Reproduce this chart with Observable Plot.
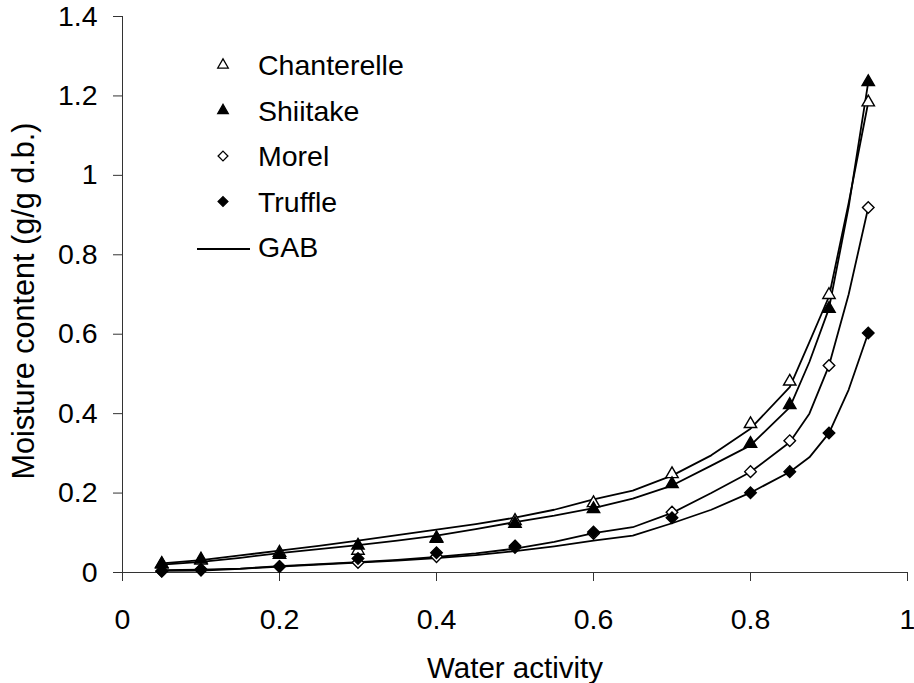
<!DOCTYPE html>
<html><head><meta charset="utf-8">
<script src="https://cdn.jsdelivr.net/npm/d3@7"></script>
<script src="https://cdn.jsdelivr.net/npm/@observablehq/plot@0.6"></script>
<style>
body{margin:0;background:#fff;font-family:"Liberation Sans",Arial,sans-serif}
#chart svg text{font-size:28.5px;fill:black}
#chart svg text.title{font-size:29.5px}
#chart svg text.ytitle{font-size:30.6px}
</style>
</head><body><div id="chart"></div>
<script>
// Experimental points
const aw = [0.05, 0.1, 0.2, 0.3, 0.4, 0.5, 0.6, 0.7, 0.8, 0.85, 0.9, 0.95];
const chanterelle = [0.020, 0.030, 0.050, 0.055, 0.085, 0.130, 0.175, 0.248, 0.374, 0.481, 0.699, 1.184];
const shiitake    = [0.022, 0.033, 0.045, 0.068, 0.087, 0.123, 0.160, 0.223, 0.324, 0.422, 0.664, 1.235];
const morel       = [0.004, 0.008, 0.015, 0.025, 0.040, 0.063, 0.098, 0.152, 0.254, 0.332, 0.521, 0.919];
const truffle     = [0.003, 0.006, 0.015, 0.035, 0.050, 0.067, 0.102, 0.138, 0.201, 0.254, 0.351, 0.603];

// GAB model curves
const gabAw = [0.05, 0.1, 0.15, 0.2, 0.25, 0.3, 0.35, 0.4, 0.45, 0.5, 0.55, 0.6, 0.65, 0.7, 0.75, 0.8, 0.85, 0.875, 0.9, 0.925, 0.95];
const gabChanterelle = [0.023, 0.031, 0.043, 0.055, 0.067, 0.080, 0.094, 0.108, 0.122, 0.138, 0.158, 0.184, 0.206, 0.244, 0.295, 0.362, 0.467, 0.580, 0.695, 0.930, 1.184];
const gabShiitake    = [0.020, 0.027, 0.037, 0.049, 0.059, 0.069, 0.080, 0.093, 0.109, 0.127, 0.143, 0.162, 0.186, 0.219, 0.269, 0.320, 0.416, 0.530, 0.665, 0.920, 1.235];
const gabMorel       = [0.006, 0.007, 0.010, 0.016, 0.021, 0.026, 0.032, 0.039, 0.048, 0.060, 0.077, 0.099, 0.114, 0.150, 0.200, 0.253, 0.328, 0.400, 0.521, 0.700, 0.919];
const gabTruffle     = [0.004, 0.005, 0.009, 0.015, 0.020, 0.025, 0.030, 0.036, 0.044, 0.054, 0.066, 0.080, 0.093, 0.124, 0.158, 0.201, 0.253, 0.290, 0.351, 0.460, 0.603];

const seriesNames = ["Chanterelle", "Shiitake", "Morel", "Truffle"];
const seriesSymbols = ["triangle", "triangle", "diamond2", "diamond2"];
const seriesFills = ["white", "black", "white", "black"];
const legendNames = ["Chanterelle", "Shiitake", "Morel", "Truffle", "GAB"];

const xTicks = [0, 0.2, 0.4, 0.6, 0.8, 1];
const yTicks = [0, 0.2, 0.4, 0.6, 0.8, 1, 1.2, 1.4];

const pointValues = [chanterelle, shiitake, morel, truffle];
const gabValues = [gabChanterelle, gabShiitake, gabMorel, gabTruffle];

const gabRows = seriesNames.flatMap((s, k) => gabAw.map((a, i) => ({series: s, aw: a, mc: gabValues[k][i]})));
const pointRows = seriesNames.map((s, k) => aw.map((a, i) => ({series: s, aw: a, mc: pointValues[k][i]})));

const FONT = 28.5;
const rFor = sym => sym === "triangle" ? 4.6 : 5.2;

const marks = [
  Plot.ruleY([0], {stroke: "#333", strokeWidth: 1}),
  Plot.ruleX([0], {stroke: "#333", strokeWidth: 1}),
  Plot.axisX({ticks: xTicks, tickSize: 9, tickPadding: 27, fontSize: FONT, tickFormat: d => String(d), label: null, stroke: "#333", fill: "black"}),
  Plot.axisY({ticks: yTicks, tickSize: 9, tickPadding: 16, fontSize: FONT, tickFormat: d => String(d), label: null, stroke: "#333", fill: "black"}),
  Plot.line(gabRows, {x: "aw", y: "mc", z: "series", stroke: "black", strokeWidth: 1.8}),
  ...pointRows.map((rows, k) => Plot.dot(rows, {
    x: "aw", y: "mc", symbol: () => seriesSymbols[k], r: rFor(seriesSymbols[k]),
    fill: seriesFills[k], stroke: "black", strokeWidth: 1.4
  })),
  Plot.text(["Water activity"], {frameAnchor: "bottom", textAnchor: "middle", dy: 105, lineAnchor: "bottom", fontSize: 29.5, fill: "black", className: "title"}),
  Plot.text(["Moisture content (g/g d.b.)"], {frameAnchor: "left", textAnchor: "middle", rotate: -90, dx: -88.5, dy: 6.5, lineAnchor: "bottom", fontSize: 30.6, fill: "black", className: "ytitle"})
];

const chart = Plot.plot({
  width: 914, height: 683,
  marginLeft: 122, marginRight: 7, marginTop: 16, marginBottom: 111,
  style: {fontFamily: '"Liberation Sans", Arial, sans-serif', fontSize: FONT + "px", background: "white", color: "black"},
  x: {domain: [0, 1]},
  y: {domain: [0, 1.4]},
  symbol: {type: "identity"},
  marks
});
document.getElementById("chart").append(chart);

// carry the title classes down to the text elements
d3.select(chart).selectAll("g.title text").classed("title", true);
d3.select(chart).selectAll("g.ytitle text").classed("ytitle", true);

// Legend inside the plot area
const svg = d3.select(chart);
const lg = svg.append("g").attr("class", "legend").attr("text-anchor", "start");
const rowY = i => 65 + i * 45.5;
const symType = {triangle: d3.symbolTriangle, diamond2: d3.symbolDiamond2};
legendNames.forEach((name, i) => {
  const y = rowY(i);
  if (i < seriesNames.length) {
    const sym = seriesSymbols[i];
    const r = rFor(sym) * 0.85;
    lg.append("path")
      .attr("d", d3.symbol(symType[sym], Math.PI * r * r)())
      .attr("transform", `translate(223,${y})`)
      .attr("fill", seriesFills[i]).attr("stroke", "black").attr("stroke-width", 1.3);
  } else {
    lg.append("line").attr("x1", 197).attr("x2", 250).attr("y1", y + 2).attr("y2", y + 2)
      .attr("stroke", "black").attr("stroke-width", 1.8);
  }
  lg.append("text").attr("x", 258).attr("y", y + 10).attr("text-anchor", "start")
    .attr("font-size", FONT).attr("fill", "black").text(name);
});
</script></body></html>
